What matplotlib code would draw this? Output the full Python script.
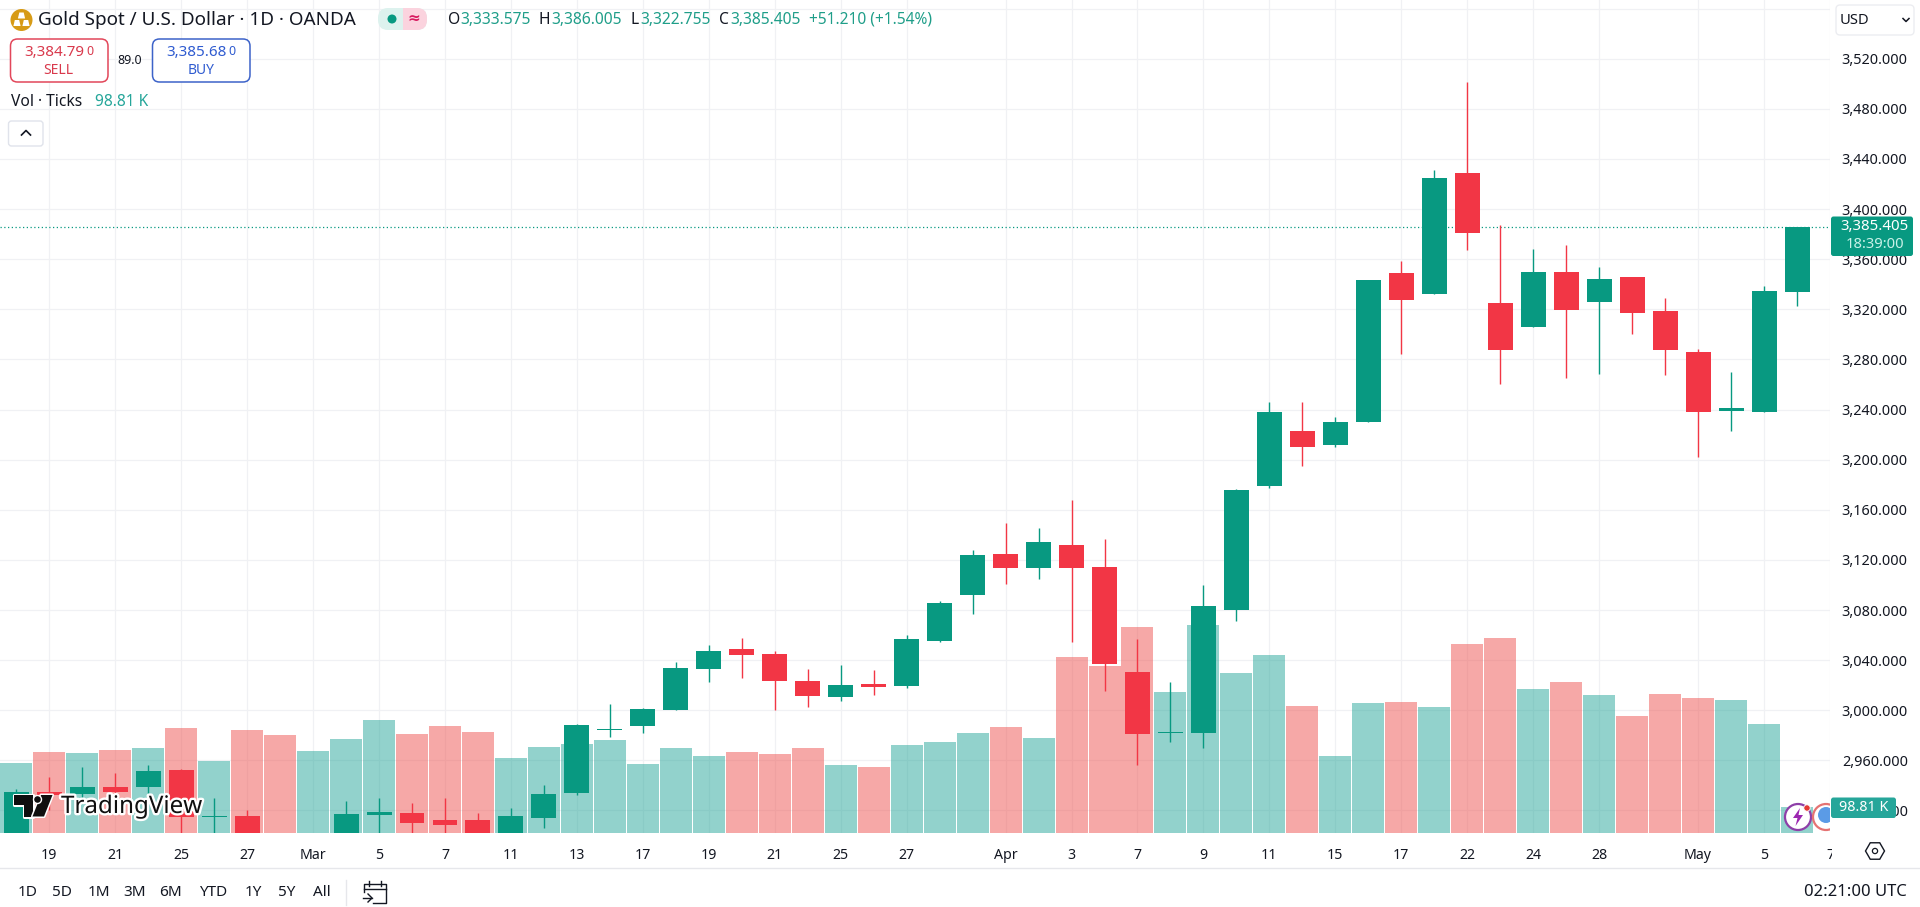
import numpy as np
import matplotlib
matplotlib.use("Agg")
import matplotlib.pyplot as plt
import matplotlib.patheffects as pe
from matplotlib.patches import Circle, FancyBboxPatch, Polygon, Rectangle

plt.rcParams['font.family'] = ['Noto Sans', 'DejaVu Sans']

# daily candles, 18 Feb to 6 May (first ones run below the visible range)
opens = [2895, 2934.8, 2933.2, 2938.8, 2938.8, 2952.4, 2914.5, 2915.7, 2880, 2857, 2893, 2916.5, 2918.1, 2912.5,
         2912.5, 2899, 2914.1, 2934, 2984.5, 2987.7, 3000.5, 3033, 3049, 3045, 3023.4, 3010.6, 3021, 3019.4,
         3055.3, 3092, 3124.8, 3113.6, 3132, 3114.4, 3030.6, 2981.5, 2982, 3080.1, 3179, 3222.9, 3211.7, 3230.3,
         3349, 3332.2, 3428.8, 3325, 3305.9, 3349.8, 3325.8, 3345.8, 3318.7, 3286, 3238.9, 3238.1, 3333.575]
highs = [2937, 2946.8, 2954.8, 2950.2, 2956.4, 2953, 2930, 2920.5, 2885, 2895, 2927.6, 2930, 2926, 2930,
         2918, 2922, 2940.4, 2989, 3005, 3002, 3038.6, 3052, 3057.7, 3047.3, 3033, 3036.2, 3032, 3060,
         3087, 3128, 3149.5, 3145.5, 3167.8, 3136.7, 3056.9, 3022.6, 3100, 3176.6, 3246, 3246, 3234, 3343.4,
         3358.6, 3431.2, 3501.4, 3387.3, 3368.1, 3371.3, 3353.8, 3345.8, 3329, 3288.3, 3270, 3338.6, 3386.005]
lows = [2880, 2920, 2928, 2925, 2932, 2895, 2895, 2890, 2850, 2845, 2885, 2895, 2895, 2895,
        2895, 2895, 2906.3, 2932.5, 2979, 2982, 3000, 3022.8, 3025.8, 3000, 3002.7, 3007.4, 3012.2, 3017.8,
        3054.5, 3077, 3100.8, 3104.8, 3054.5, 3015.4, 2956.4, 2974.7, 2970, 3071.3, 3177.5, 3194.6, 3210.1, 3230.3,
        3284.4, 3332.2, 3367.3, 3260.4, 3305.9, 3265.2, 3268.4, 3300.3, 3267.6, 3202.2, 3222.9, 3238.1, 3322.755]
closes = [2934.8, 2932.4, 2938.8, 2934.8, 2951.6, 2914.9, 2915, 2895, 2858, 2893, 2917.3, 2919.1, 2910.1, 2908.5,
          2900, 2915.7, 2933.2, 2988.3, 2985, 3001, 3033.8, 3047.3, 3044, 3023.4, 3011.4, 3020.2, 3018.6, 3056.9,
          3085.6, 3124, 3113.6, 3134.3, 3113.6, 3037, 2981.1, 2981.7, 3083.3, 3175.8, 3238.1, 3210.1, 3230.1, 3343.4,
          3327.4, 3424.8, 3380.9, 3287.5, 3349.8, 3319.5, 3344.2, 3317.1, 3287.5, 3238.1, 3241.3, 3334.6, 3385.405]
volumes_k = [263, 304, 301, 312, 319, 394, 270, 387, 368, 308, 353, 425, 372, 402,
             379, 282, 323, 334, 349, 259, 319, 289, 304, 297, 319, 255, 248, 331,
             342, 376, 398, 357, 661, 627, 774, 530, 781, 601, 669, 477, 289, 488,
             492, 473, 710, 733, 541, 567, 518, 440, 522, 507, 500, 410, 98.81]

tick_pos = [0, 2, 4, 6, 8, 10, 12, 14, 16, 18, 20, 22, 24, 26, 29, 31, 33, 35, 37, 39, 41, 43, 45, 47, 50, 52, 54]
tick_labels = ['19', '21', '25', '27', 'Mar', '5', '7', '11', '13', '17', '19', '21', '25', '27',
               'Apr', '3', '7', '9', '11', '15', '17', '22', '24', '28', 'May', '5', '7']
price_ticks = list(range(2920, 3561, 40))
range_buttons = ['1D', '5D', '1M', '3M', '6M', 'YTD', '1Y', '5Y', 'All']
range_button_x = [28, 62, 99, 135, 171, 213, 253, 286.5, 321.6]

GREEN = '#089981'
RED = '#F23645'
VOL_GREEN = '#26A69A'
VOL_RED = '#EF5350'
INK = '#131722'

fig = plt.figure(figsize=(19.2, 9.07), dpi=100, facecolor='white')

ax = fig.add_axes([0, 74 / 907, 1830 / 1920, 833 / 907])
ax.set_facecolor('white')
idx = np.arange(len(opens)) - 1
o, h, l, c = map(np.array, (opens, highs, lows, closes))
up = c >= o
xlim = (-1.494, 53.96)
ylim = (2902.04, 3566.85)

# volume pane shares the same area, scale set so 98.81K is 26px tall
ax_vol = ax.twinx()
ax_vol.set_ylim(0, 3129)
ax_vol.bar(idx, volumes_k, width=0.97, color=np.where(up, VOL_GREEN, VOL_RED), alpha=0.5, lw=0)
ax_vol.axis('off')

ax_c = ax.twinx()
ax_c.set_ylim(ylim)
ax_c.axis('off')
colors = np.where(up, GREEN, RED)
ax_c.vlines(idx, l, h, colors=colors, lw=1.0, zorder=2)
ax_c.bar(idx, np.maximum(np.abs(c - o), 0.9), bottom=np.minimum(o, c), width=0.757, color=colors, lw=0, zorder=3)
ax_c.axhline(closes[-1], color=GREEN, lw=0.9, ls=(0, (1, 2)), zorder=1)

ax.set_xlim(xlim)
ax.set_ylim(ylim)
ax.set_xticks(tick_pos)
ax.set_xticklabels(tick_labels, fontsize=10.2, color=INK)
for t, name in zip(ax.get_xticklabels(), tick_labels):
    if name in ('Mar', 'Apr', 'May'):
        t.set_fontweight('bold')
ax.yaxis.tick_right()
ax.set_yticks(price_ticks)
# the 3,560 line sits under the currency box, so it has a grid line but no label
ax.set_yticklabels([f'{p:,.3f}' if p < 3560 else '' for p in price_ticks], fontsize=10.4, color=INK)
ax.tick_params(length=0)
ax.tick_params(axis='x', pad=11)
ax.tick_params(axis='y', pad=8.5)
ax.grid(True, color='#F0F1F4', lw=0.9)
ax.set_axisbelow(True)
for s in ax.spines.values():
    s.set_visible(False)

# everything round the chart is placed in screen pixels
ov = fig.add_axes([0, 0, 1, 1], facecolor='none')
ov.set_xlim(0, 1920)
ov.set_ylim(907, 0)
ov.axis('off')


def label(x, y, s, size=10.5, color=INK, ha='left', **kw):
    return ov.text(x, y, s, fontsize=size, color=color, ha=ha, va='center', **kw)


def box(x0, y0, x1, y1, fc='white', ec='none', r=5, lw=1.0, **kw):
    p = FancyBboxPatch((x0, y0), x1 - x0, y1 - y0, boxstyle=f'round,pad=0,rounding_size={r}',
                       fc=fc, ec=ec, lw=lw, **kw)
    ov.add_patch(p)
    return p


# header
ov.add_patch(Circle((21.5, 20), 11, fc='#D79B16', ec='none'))
for cx, cy in [(21.5, 15.5), (17, 23), (26, 23)]:
    ov.add_patch(Polygon([(cx - 3.6, cy + 3), (cx + 3.6, cy + 3), (cx + 2.2, cy - 3), (cx - 2.2, cy - 3)], fc='white', ec='none'))
label(38.5, 20, 'Gold Spot / U.S. Dollar · 1D · OANDA', size=13.6)

box(378, 8, 427, 30, fc='#DDF2EE', r=10)
pill = box(378, 8, 427, 30, fc='#FBD3DE', r=10)
pill.set_clip_path(Rectangle((403, 0), 40, 40, transform=ov.transData))
ov.add_patch(Circle((392, 19), 4.5, fc=GREEN, ec='none'))
label(414, 19, '≈', size=11, color='#D81B60', ha='center', fontweight='bold')

for x, s in [(448, 'O'), (539, 'H'), (631, 'L'), (719.5, 'C')]:
    label(x, 20, s, size=11.2)
for x, s in [(460, '3,333.575'), (551, '3,386.005'), (640, '3,322.755'), (730, '3,385.405'), (809, '+51.210 (+1.54%)')]:
    label(x, 20, s, size=11.2, color='#1F9E89')

# sell / buy boxes
box(10.5, 39, 108, 82, ec='#E2475A', r=7, lw=1.1)
label(24.5, 53, '3,384.79', size=10.9, color='#D9394C', fontweight='bold')
label(86, 51.5, '0', size=9, color='#D9394C')
label(58, 70, 'SELL', size=10, color='#D9394C', ha='center')
label(117.5, 60, '89.0', size=9)
box(152.5, 39, 250, 82, ec='#3D63C9', r=7, lw=1.1)
label(166.5, 53, '3,385.68', size=10.9, color='#2F5BD0', fontweight='bold')
label(228.5, 51.5, '0', size=9, color='#2F5BD0')
label(201, 70, 'BUY', size=10, color='#2F5BD0', ha='center')

label(11, 102, 'Vol · Ticks', size=11.2)
label(95, 102, '98.81 K', size=11.2, color='#26A69A')
box(8.5, 121, 43, 146, ec='#E0E3EB', r=3, lw=1.0)
ov.plot([21.5, 26, 30.5], [135, 130.5, 135], color=INK, lw=1.2)

# right side controls and tags
box(1836, 5, 1914, 35, ec='#ECEDF1', r=4, lw=1.0)
label(1840, 20.5, 'USD', size=10.6)
ov.plot([1903, 1906, 1909], [18.5, 21.5, 18.5], color=INK, lw=1.1)

box(1831, 216.5, 1913, 256, fc=GREEN, r=2.5)
label(1874.5, 227, '3,385.405', size=10.8, color='white', ha='center')
label(1874.5, 244, '18:39:00', size=10.6, color='#C9F1E8', ha='center')

# tv logo with its white halo
halo = [pe.withStroke(linewidth=3.4, foreground='white')]
logo = [[(14, 795), (33, 795), (33, 816.5), (23.5, 816.5), (23.5, 804.5), (14, 804.5)],
        [(41, 795), (52.5, 795), (44, 816.5), (32.5, 816.5)]]
for pts in logo:
    ov.add_patch(Polygon(pts, fc='#0F0F0F', ec='white', lw=2.2, joinstyle='round'))
    ov.add_patch(Polygon(pts, fc='#0F0F0F', ec='none'))
ov.add_patch(Circle((37.5, 799.5), 4, fc='#0F0F0F', ec='white', lw=1.0))
label(61, 807, 'TradingView', size=17.4, color='#0F0F0F', fontweight='bold', path_effects=halo)

# little badges at the bottom right
ov.add_patch(Circle((1798, 817), 13, fc='white', ec='#8E3FA8', lw=1.6))
ov.add_patch(Polygon([(1800, 808), (1793, 818), (1797.5, 818), (1795.5, 826), (1803, 815), (1798.5, 815)], fc='#9C27B0', ec='none'))
ov.add_patch(Circle((1807, 808), 3.2, fc='#E53935', ec='white', lw=0.6))
clip = Rectangle((1780, 790), 50, 50, transform=ov.transData)
flag = Circle((1826, 817), 13, fc='white', ec='#E57373', lw=1.6)
ov.add_patch(flag)
flag.set_clip_path(clip)
globe = Circle((1826, 815), 8, fc='#5B9BE6', ec='none')
ov.add_patch(globe)
globe.set_clip_path(clip)

box(1831, 797.5, 1896, 818, fc='#26A69A', r=2.5)
label(1863.5, 807.5, '98.81 K', size=10.3, color='white', ha='center')

# right column under the panes hides the tail of the clipped 7
ov.add_patch(Rectangle((1831.5, 836), 90, 30, fc='white', ec='none'))
hex_a = np.deg2rad(np.arange(0, 360, 60))
ov.add_patch(Polygon(np.c_[1875 + 9.5 * np.cos(hex_a), 851 + 9.5 * np.sin(hex_a)], fc='none', ec=INK, lw=1.0))
ov.add_patch(Circle((1875, 851), 2.6, fc='none', ec=INK, lw=0.9))

# bottom toolbar
ov.plot([0, 1920], [868, 868], color='#E6E7EB', lw=1.0)
for x, s in zip(range_button_x, range_buttons):
    label(x, 892, s, size=11, ha='center')
ov.plot([346, 346], [880, 905], color='#E6E7EB', lw=1.0)
ov.plot([364, 364, 386, 386, 373], [892, 884, 884, 903, 903], color=INK, lw=1.0)
ov.plot([364, 386], [889, 889], color=INK, lw=1.0)
ov.plot([369, 369], [881, 886], color=INK, lw=1.0)
ov.plot([381, 381], [881, 886], color=INK, lw=1.0)
ov.plot([363, 372], [898, 898], color=INK, lw=1.0)
ov.plot([368, 372, 368], [894, 898, 902], color=INK, lw=1.0)
label(1907, 892, '02:21:00 UTC', size=12, ha='right')

fig.savefig('out.png', dpi=100)
